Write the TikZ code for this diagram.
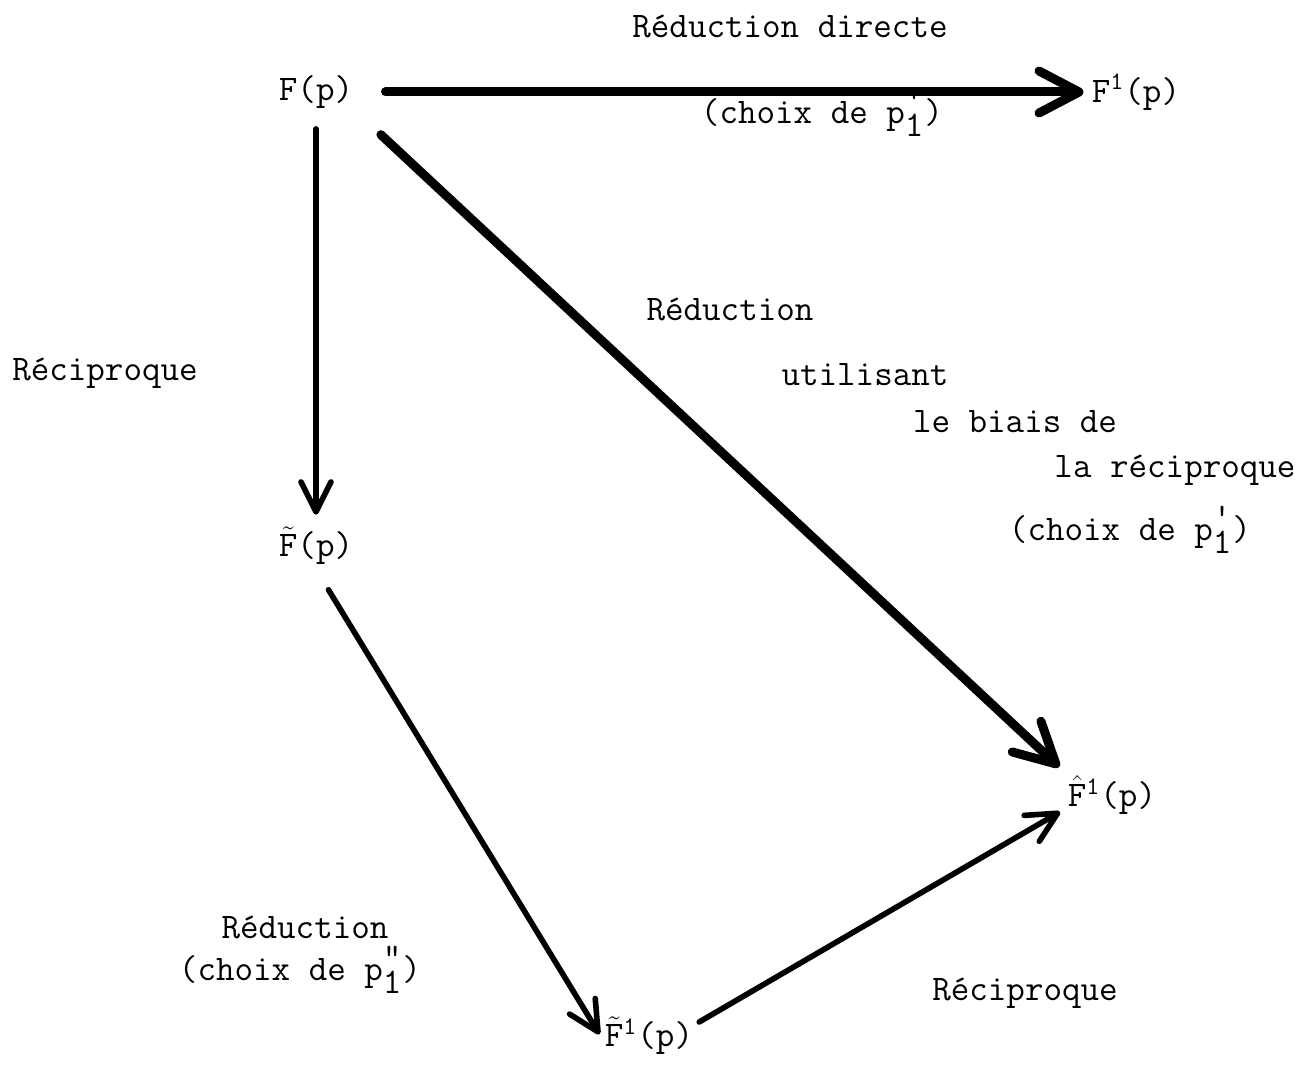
\documentclass[tikz,border=0pt]{standalone}
\usepackage{fontspec}
\usepackage{tikz}
\usetikzlibrary{arrows.meta}

\newcommand{\typefont}{\ttfamily\fontsize{18pt}{21pt}\selectfont}
\newcommand{\pind}[1]{p$^{\texttt{#1}}_{\texttt{1}}$}
\newcommand{\tilF}{$\tilde{\mathtt{F}}$}
\newcommand{\hatF}{$\hat{\mathtt{F}}$}

\begin{document}
\begin{tikzpicture}[x=0.5pt,y=-0.5pt,
    every node/.style={font=\typefont,inner sep=2pt},
    bigarrow/.style={line width=4.5pt,line cap=round,
      -{Straight Barb[length=20pt,width=21pt,round]}},
    smallarrow/.style={line width=2.8pt,line cap=round,
      -{Straight Barb[length=15pt,width=15pt,round]}}]
  \useasboundingbox (0,0) rectangle (1303,1070);
  % the five functions
  \node (Fp) at (316,92) {F(p)};
  \node (Fone) at (1136,92) {F\textsuperscript{1}(p)};
  \node (Ftil) at (316,546) {\tilF(p)};
  \node (Fhat) at (1112,795) {\hatF\textsuperscript{1}(p)};
  \node (Ftilone) at (649,1036) {\tilF\textsuperscript{1}(p)};
  % arrows
  \draw[bigarrow,shorten <=14pt,shorten >=2pt] (Fp.east) -- (Fone.west);
  \draw[smallarrow,shorten <=8pt,shorten >=4pt] (Fp.south) -- (Ftil.north);
  \draw[bigarrow,shorten <=16pt,shorten >=3pt] (Fp.south east) -- (Fhat.north west);
  \draw[smallarrow,shorten <=12pt,shorten >=1pt] (Ftil.south) -- (Ftilone.west);
  \draw[smallarrow,shorten <=1pt,shorten >=2pt] (Ftilone.15) -- (Fhat.197);
  % labels
  \node (lbldirect) at (790,27) {Réduction directe};
  \node (lblchoixA) at (822,113) {(choix de \pind{'})};
  \node (lblrecA) at (105,373) {Réciproque};
  \node (lblredB) at (730,310) {Réduction};
  \node (lblutil) at (865,375) {utilisant};
  \node (lblbiais) at (1015,422) {le biais de};
  \node (lblrecB) at (1175,470) {la réciproque};
  \node (lblchoixB) at (1130,530) {(choix de \pind{'})};
  \node (lblredC) at (305,927) {Réduction};
  \node (lblchoixC) at (300,970) {(choix de \pind{"})};
  \node (lblrecC) at (1025,993) {Réciproque};
\end{tikzpicture}
\end{document}
